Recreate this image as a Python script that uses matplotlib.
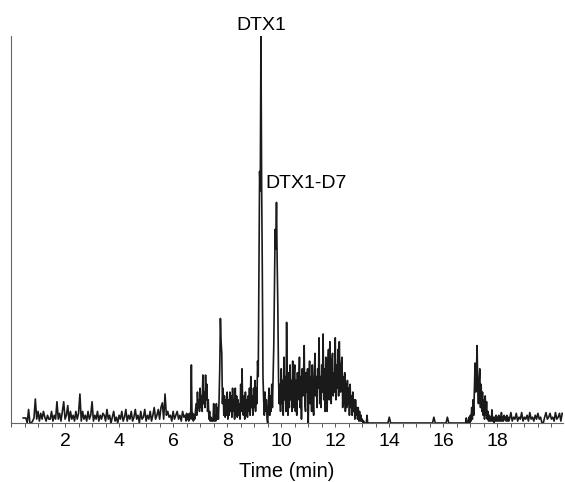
import numpy as np
import matplotlib
matplotlib.use("Agg")
import matplotlib.pyplot as plt
from matplotlib.ticker import MultipleLocator

# chromatogram trace: relative intensity (%)
# quiet parts are read every 0.05 min, the busy parts every 0.025 min
# each row covers one minute from its segment start

# 0.45 - 6.40 min, step 0.05
early_start = 0.45
early_step = 0.05
early_rows = [
    [1.3, 1.3, 1.3, 0, 3.5, 0, 0, 0.5, 1.3, 6.2, 1, 3, 0.5, 2.5, 1, 3, 1.5, 0.5, 2, 1],
    [1, 3, 0.5, 2, 1, 5.5, 1, 2.5, 0.5, 3, 5.5, 1, 2, 4.5, 0.5, 3, 1, 2, 0.5, 3],
    [1, 2.5, 7.5, 0.5, 3, 1, 2, 0.5, 3, 1, 2, 5.5, 0.5, 2, 1, 3, 0.5, 2, 1, 2.5],
    [2, 0.5, 3.5, 1, 2, 0, 1.5, 3, 0.5, 1.5, 0, 2, 1, 3, 0.5, 1.5, 3.5, 0.5, 2, 1],
    [3, 0.5, 1.5, 3.5, 1, 2, 0, 3, 1, 1.5, 3.5, 0.5, 2, 1, 3, 0.5, 2, 4, 1, 2],
    [3.5, 1, 4, 5.2, 1, 7.5, 2, 3, 1.5, 2, 0.5, 3, 1, 2, 3, 1, 2, 0.5, 3, 1.5],
]

# 6.45 - 13.425 min, step 0.025
mid_start = 6.45
mid_step = 0.025
mid_rows = [
    [2, 0.5, 2.5, 1, 2, 0.5, 2.5, 1, 2, 15, 1, 2.5, 0.5, 2, 1, 3, 5, 2, 8, 4,
     6, 3, 9, 4, 7, 3, 12.4, 5, 8, 4, 12.4, 6, 10, 3, 6, 1, 3, 0.5, 1.5, 0.5],
    [1, 0.5, 5, 0.5, 2, 0.5, 5, 1, 4, 1, 6, 14, 27, 21, 18, 5, 9, 2, 7, 1.5,
     6, 2, 8, 1, 6, 2, 8, 3, 7, 1.5, 9, 3, 6, 1, 9, 2, 7, 1.5, 6, 2],
    [5, 1, 10, 3, 14, 4, 2, 7, 1, 8, 2, 6, 1.5, 7, 3, 9, 2, 12, 4, 7,
     2, 9, 4, 11, 3, 9, 5, 16, 12, 40, 65, 60, 100, 62, 40, 12, 6, 2, 8, 3],
    [6, 1, 0, 5, 9, 2, 7, 3, 10, 4, 12, 20, 35, 50, 45, 57, 42, 30, 12, 5,
     10, 3, 14, 5, 11, 2, 17, 6, 12, 3, 26, 8, 2, 13, 4, 15, 6, 11, 3, 16],
    [4, 12, 15, 3, 11, 2, 13, 6, 9, 17, 4, 12, 1, 14, 7, 12, 20, 5, 3, 13,
     8, 14, 0, 10, 16, 5, 12, 3, 15, 6, 2, 13, 18, 7, 12, 4, 14, 9, 22, 5],
    [12, 4, 15, 8, 23, 6, 14, 3, 17, 9, 3, 15, 19, 6, 21, 10, 5, 16, 18, 7,
     13, 8, 22, 6, 15, 9, 19, 7, 21, 12, 8, 15, 17, 4, 12, 5, 13, 3, 10, 4],
    [11, 5, 9, 2, 10, 4, 7, 2, 8, 3, 6, 1, 6, 2, 4, 1, 4, 0.5, 3, 0.5,
     2, 0.5, 1, 0, 0.5, 0, 0, 0, 0, 2, 0, 0, 0, 0, 0, 0, 0, 0, 0, 0],
]

# 13.45 - 16.40 min, step 0.05 (flat stretch)
flat_start = 13.45
flat_step = 0.05
flat_rows = [
    [0, 0, 0, 0, 0, 0, 0, 0, 0, 0, 0, 1.5, 0, 0, 0, 0, 0, 0, 0, 0],
    [0, 0, 0, 0, 0, 0, 0, 0, 0, 0, 0, 0, 0, 0, 0, 0, 0, 0, 0, 0],
    [0, 0, 0, 0, 1.5, 0, 0, 0, 0, 0, 0, 0, 0, 0, 1.5, 0, 0, 0, 0, 0],
]

# 16.45 - 18.425 min, step 0.025 (late peak)
late_start = 16.45
late_step = 0.025
late_rows = [
    [0, 0, 0, 0, 0, 0, 0, 0, 0, 0, 0, 0, 0, 0, 0, 0, 1.3, 0, 0, 0.5,
     1.5, 0, 2, 0.5, 4, 1, 6, 2, 9, 15.5, 8, 13, 20, 9, 5, 11, 14, 4, 10, 3],
    [8, 2, 6, 1, 7, 2, 5.5, 1, 3, 0.5, 2, 0.5, 1.5, 0.5, 3.4, 0.5, 1.5, 0, 1.5, 0.5,
     2, 0.5, 1.5, 0.5, 2, 0.5, 1.5, 0.5, 2.7, 0.5, 1.5, 0.5, 2, 1, 1.5, 0.5, 2, 0.5, 1.5, 0.5],
]

# 18.45 - 20.40 min, step 0.05
tail_start = 18.45
tail_step = 0.05
tail_rows = [
    [1, 2.7, 0.5, 1.5, 1, 2.5, 0.5, 1.5, 1, 2.7, 0.5, 1.5, 1, 2, 0.5, 2.7, 1, 1.5, 0.5, 2],
    [1, 2.5, 1, 1.5, 0, 0, 1.5, 2.7, 1, 1.5, 2.5, 1, 1.5, 0.5, 2.7, 1, 1.5, 2.5, 0.5, 2.5],
]

major_ticks = [2, 4, 6, 8, 10, 12, 14, 16, 18]
peak_labels = ["DTX1", "DTX1-D7"]


def rows_to_series(start, step, rows):
    times, values = [], []
    for k, row in enumerate(rows):
        row_start = start + k * 1.0
        times.append(row_start + step * np.arange(len(row)))
        values.append(np.array(row, dtype=float))
    return np.concatenate(times), np.concatenate(values)


parts = [rows_to_series(early_start, early_step, early_rows),
         rows_to_series(mid_start, mid_step, mid_rows),
         rows_to_series(flat_start, flat_step, flat_rows),
         rows_to_series(late_start, late_step, late_rows),
         rows_to_series(tail_start, tail_step, tail_rows)]
time = np.concatenate([p[0] for p in parts])
intensity = np.concatenate([p[1] for p in parts])

plt.rcParams["font.family"] = ["Liberation Sans", "DejaVu Sans"]

fig = plt.figure(figsize=(5.65, 4.82), dpi=100, facecolor="white")
ax = fig.add_axes([0.0195, 0.1224, 0.977, 0.803])

ax.plot(time, intensity, color="#1a1a1a", linewidth=1.2)

ax.set_xlim(0, 20.43)
ax.set_ylim(0, 100)

ax.set_xticks(major_ticks)
ax.set_xticklabels([str(v) for v in major_ticks])
ax.xaxis.set_minor_locator(MultipleLocator(0.5))
ax.tick_params(axis="x", which="both", direction="out", length=3, width=0.7,
               color="#555555", labelsize=14, pad=4)
ax.set_yticks([])

for side in ("top", "right"):
    ax.spines[side].set_visible(False)
for side in ("left", "bottom"):
    ax.spines[side].set_color("#666666")
    ax.spines[side].set_linewidth(0.8)

ax.set_xlabel("Time (min)", fontsize=14.5, labelpad=9)

# peak annotations
ax.text(9.25, 102.8, peak_labels[0], fontsize=14, ha="center", va="center", clip_on=False)
ax.text(9.43, 62, peak_labels[1], fontsize=14, ha="left", va="center")

fig.savefig("out.png", dpi=100, facecolor=fig.get_facecolor())
plt.close(fig)
